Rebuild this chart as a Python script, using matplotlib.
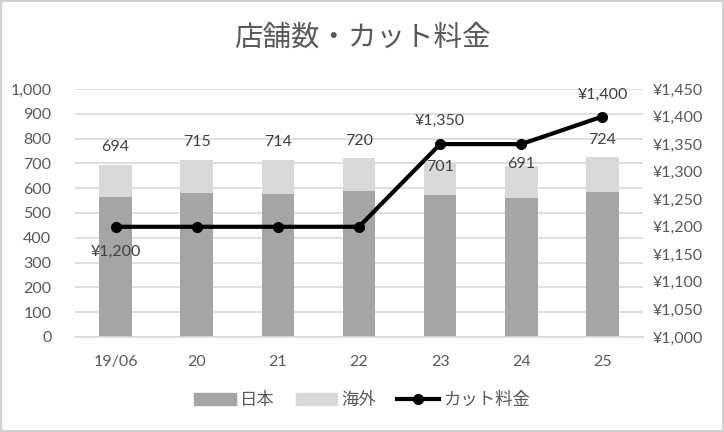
import matplotlib
matplotlib.use("Agg")
from matplotlib import pyplot as plt
from matplotlib.lines import Line2D
from matplotlib.patches import Patch, Rectangle
import numpy as np

plt.rcParams['font.family'] = ['Lato', 'Noto Sans CJK JP', 'DejaVu Sans']

# data
years = ['19/06', '20', '21', '22', '23', '24', '25']
japan = [566, 582, 578, 590, 573, 562, 586]
total = [694, 715, 714, 720, 701, 691, 724]
overseas = [t - j for t, j in zip(total, japan)]
price = [1200, 1200, 1200, 1200, 1350, 1350, 1400]

# label offsets (pixels) for totals, some moved to dodge the line
total_offsets = [18, 18, 18, 17, -4, 2, 17]
price_labels = {0: -25, 4: 23, 6: 22}

TEXT = '#595959'
GRID = '#d9d9d9'
FS = 11.5

fig = plt.figure(figsize=(7.24, 4.32), dpi=100)
ax1 = fig.add_axes([75 / 724, (432 - 337) / 432, 568 / 724, 248 / 432])

x = np.arange(len(years))
ax1.bar(x, japan, width=0.4, color='#a5a5a5', zorder=2)
ax1.bar(x, overseas, width=0.4, bottom=japan, color='#d9d9d9', zorder=2)

ax1.set_xlim(-0.5, len(years) - 0.5)
ax1.set_ylim(0, 1000)
ax1.set_yticks(np.arange(0, 1001, 100))
ax1.set_yticklabels([f'{v:,}' for v in range(0, 1001, 100)])
ax1.set_xticks(x)
ax1.set_xticklabels(years)
ax1.yaxis.grid(True, color=GRID, linewidth=1.2, zorder=0)
ax1.set_axisbelow(True)
for s in ['top', 'right', 'left']:
    ax1.spines[s].set_visible(False)
ax1.spines['bottom'].set_color(GRID)
ax1.spines['bottom'].set_linewidth(1.2)
ax1.tick_params(axis='both', length=0, colors=TEXT, labelsize=FS)
ax1.tick_params(axis='x', pad=13)
ax1.tick_params(axis='y', pad=17)

for i, t in enumerate(total):
    ax1.annotate(str(t), (x[i], t), xytext=(0, total_offsets[i]),
                 textcoords='offset pixels', ha='center', va='center',
                 color='#404040', fontsize=FS, zorder=5)

ax2 = ax1.twinx()
ax2.plot(x, price, color='black', linewidth=3, marker='o', markersize=7, zorder=4)
ax2.set_ylim(1000, 1450)
ax2.set_yticks(np.arange(1000, 1451, 50))
ax2.set_yticklabels([f'¥{v:,}' for v in range(1000, 1451, 50)])
for s in ['top', 'right', 'left', 'bottom']:
    ax2.spines[s].set_visible(False)
ax2.tick_params(axis='y', length=0, colors=TEXT, labelsize=FS, pad=7)

for i, off in price_labels.items():
    ax2.annotate(f'¥{price[i]:,}', (x[i], price[i]), xytext=(0, off),
                 textcoords='offset pixels', ha='center', va='center',
                 color='#404040', fontsize=FS, zorder=5)

fig.text(0.5, 1 - 38 / 432, '店舗数・カット料金', ha='center', va='center',
         fontsize=20.5, color=TEXT, family=['Noto Sans CJK JP'])

handles = [Patch(color='#a5a5a5'), Patch(color='#d9d9d9'),
           Line2D([0], [0], color='black', linewidth=3, marker='o', markersize=7)]
fig.legend(handles, ['日本', '海外', 'カット料金'], loc='center',
           bbox_to_anchor=(0.5, 1 - 400 / 432), ncol=3, frameon=False,
           prop={'family': ['Noto Sans CJK JP'], 'size': 12.5},
           labelcolor=TEXT, handlelength=2.4, handletextpad=0.25, columnspacing=1.2)

fig.patches.append(Rectangle((0.002, 0.003), 0.996, 0.994, transform=fig.transFigure,
                             fill=False, edgecolor='#d0d0d0', linewidth=1.5))

fig.savefig('out.png', dpi=100)
